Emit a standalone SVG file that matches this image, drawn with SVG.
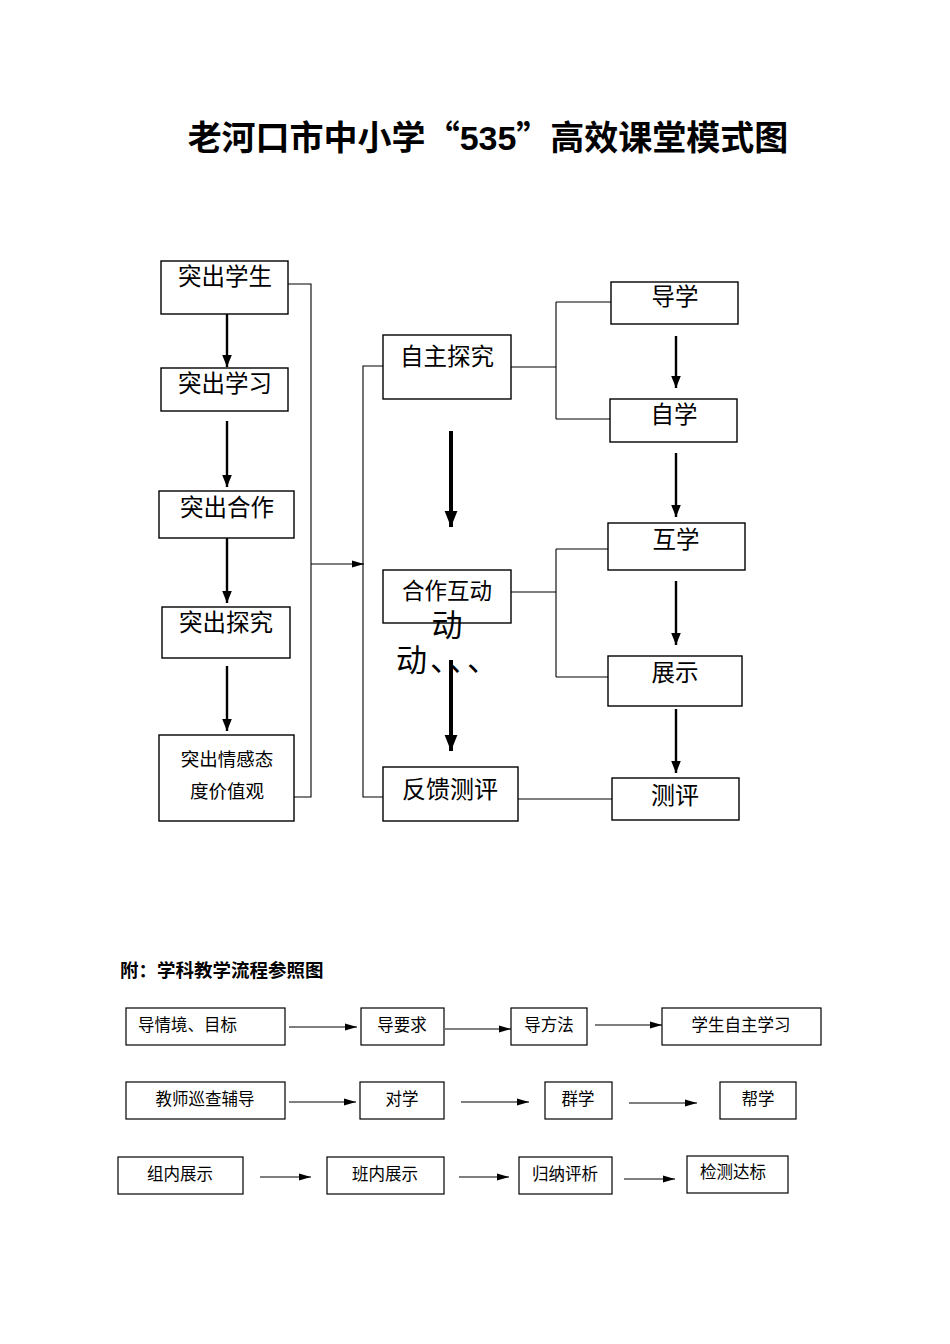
<svg xmlns="http://www.w3.org/2000/svg" width="950" height="1344" viewBox="0 0 950 1344">
<style>
.box{fill:#fff;stroke:#000;stroke-width:1.4}
.sbox{fill:#fff;stroke:#000;stroke-width:1.2}
.ln{fill:none;stroke:#000;stroke-width:1.1}
.ar{fill:none;stroke:#000;stroke-width:2.4}
.bar{fill:none;stroke:#000;stroke-width:4}
.sa{fill:none;stroke:#000;stroke-width:1.1}
text{font-family:"Liberation Sans","Noto Sans CJK SC",sans-serif;fill:#000}
.cjk{font-family:"Noto Sans CJK SC",sans-serif}
.t{font-size:23.5px;text-anchor:middle}
.s{font-size:16.5px;text-anchor:middle}
</style>
<defs>
<marker id="ah" viewBox="0 0 10 10" refX="10" refY="5" markerWidth="5" markerHeight="5" orient="auto" markerUnits="strokeWidth"><path d="M0,1 L10,5 L0,9 z" fill="#000"/></marker>
<marker id="ahb" viewBox="0 0 10 10" refX="10" refY="5" markerWidth="4" markerHeight="4" orient="auto" markerUnits="strokeWidth"><path d="M0,1 L10,5 L0,9 z" fill="#000"/></marker>
<marker id="ahs" viewBox="0 0 10 10" refX="10" refY="5" markerWidth="11" markerHeight="11" orient="auto" markerUnits="strokeWidth"><path d="M0,2 L10,5 L0,8 z" fill="#000"/></marker>
</defs>

<text x="488" y="150" style="font-size:34px;font-weight:bold;text-anchor:middle">老河口市中小学<tspan class="cjk">“</tspan>535<tspan class="cjk">”</tspan>高效课堂模式图</text>

<g id="connectors">
<path class="ln" d="M288,284 H311 V797 H294"/>
<path class="ln" d="M311,564 H364" marker-end="url(#ahs)"/>
<path class="ln" d="M383,366 H363 V797 H383"/>
<path class="ln" d="M511,367 H556 M556,302 V419 M556,302 H611 M556,419 H610"/>
<path class="ln" d="M511,592 H556 M556,549 V677 M556,549 H608 M556,677 H608"/>
<path class="ln" d="M518,799 H612"/>
<path class="ar" d="M227,314 V367" marker-end="url(#ah)"/>
<path class="ar" d="M227,421 V487" marker-end="url(#ah)"/>
<path class="ar" d="M227,538 V603" marker-end="url(#ah)"/>
<path class="ar" d="M227,666 V731" marker-end="url(#ah)"/>
<path class="bar" d="M451,431 V527" marker-end="url(#ahb)"/>
<path class="bar" d="M451,660 V751" marker-end="url(#ahb)"/>
<path class="ar" d="M676,336 V388" marker-end="url(#ah)"/>
<path class="ar" d="M676,453 V517" marker-end="url(#ah)"/>
<path class="ar" d="M676,581 V645" marker-end="url(#ah)"/>
<path class="ar" d="M676,709 V773" marker-end="url(#ah)"/>
<path class="sa" d="M289,1027 H357" marker-end="url(#ahs)"/>
<path class="sa" d="M445,1029 H511" marker-end="url(#ahs)"/>
<path class="sa" d="M595,1025 H662" marker-end="url(#ahs)"/>
<path class="sa" d="M289,1102 H356" marker-end="url(#ahs)"/>
<path class="sa" d="M461,1102 H529" marker-end="url(#ahs)"/>
<path class="sa" d="M629,1103 H697" marker-end="url(#ahs)"/>
<path class="sa" d="M260,1177 H311" marker-end="url(#ahs)"/>
<path class="sa" d="M459,1177 H509" marker-end="url(#ahs)"/>
<path class="sa" d="M624,1179 H675" marker-end="url(#ahs)"/>
</g>

<g id="n1"><rect class="box" x="161" y="261" width="127" height="53"/><text class="t" x="225" y="285">突出学生</text></g>
<g id="n2"><rect class="box" x="161" y="368" width="127" height="43"/><text class="t" x="225" y="392">突出学习</text></g>
<g id="n3"><rect class="box" x="159" y="491" width="135" height="47"/><text class="t" x="227" y="516">突出合作</text></g>
<g id="n4"><rect class="box" x="162" y="607" width="128" height="51"/><text class="t" x="226" y="631">突出探究</text></g>
<g id="n5"><rect class="box" x="159" y="735" width="135" height="86"/><text x="227" y="766" style="font-size:18.5px;text-anchor:middle">突出情感态</text><text x="227" y="798" style="font-size:18.5px;text-anchor:middle">度价值观</text></g>

<g id="m1"><rect class="box" x="383" y="335" width="128" height="64"/><text class="t" x="447" y="365">自主探究</text></g>
<g id="m2"><rect class="box" x="383" y="570" width="128" height="53"/><text x="447" y="599" style="font-size:22.5px;text-anchor:middle">合作互动</text></g>
<g id="m3"><rect class="box" x="383" y="767" width="135" height="54"/><text x="450" y="798" style="font-size:24px;text-anchor:middle">反馈测评</text></g>
<text x="447" y="636" style="font-size:31px;text-anchor:middle">动</text>
<text x="396" y="671" style="font-size:31px;letter-spacing:3px">动、、、</text>

<g id="r1"><rect class="box" x="611" y="282" width="127" height="42"/><text class="t" x="675" y="305">导学</text></g>
<g id="r2"><rect class="box" x="610" y="399" width="127" height="43"/><text class="t" x="674" y="423">自学</text></g>
<g id="r3"><rect class="box" x="608" y="523" width="137" height="47"/><text class="t" x="676" y="548">互学</text></g>
<g id="r4"><rect class="box" x="608" y="656" width="134" height="50"/><text class="t" x="675" y="681">展示</text></g>
<g id="r5"><rect class="box" x="612" y="778" width="127" height="42"/><text x="675" y="804" style="font-size:24px;text-anchor:middle">测评</text></g>

<text x="120" y="977" style="font-size:18.5px;font-weight:bold">附：学科教学流程参照图</text>

<g id="b1"><rect class="sbox" x="126" y="1008" width="159" height="37"/><text x="138" y="1031" style="font-size:16.5px">导情境、目标</text></g>
<g id="b2"><rect class="sbox" x="361" y="1008" width="83" height="37"/><text class="s" x="402" y="1031">导要求</text></g>
<g id="b3"><rect class="sbox" x="511" y="1008" width="76" height="37"/><text class="s" x="549" y="1031">导方法</text></g>
<g id="b4"><rect class="sbox" x="662" y="1008" width="159" height="37"/><text class="s" x="741" y="1031">学生自主学习</text></g>

<g id="c1"><rect class="sbox" x="126" y="1082" width="159" height="37"/><text class="s" x="205" y="1105">教师巡查辅导</text></g>
<g id="c2"><rect class="sbox" x="360" y="1082" width="84" height="37"/><text class="s" x="402" y="1105">对学</text></g>
<g id="c3"><rect class="sbox" x="545" y="1082" width="67" height="37"/><text class="s" x="578" y="1105">群学</text></g>
<g id="c4"><rect class="sbox" x="720" y="1082" width="76" height="37"/><text class="s" x="758" y="1105">帮学</text></g>

<g id="d1"><rect class="sbox" x="118" y="1157" width="125" height="37"/><text class="s" x="180" y="1180">组内展示</text></g>
<g id="d2"><rect class="sbox" x="327" y="1157" width="117" height="37"/><text class="s" x="385" y="1180">班内展示</text></g>
<g id="d3"><rect class="sbox" x="519" y="1157" width="93" height="37"/><text class="s" x="565" y="1180">归纳评析</text></g>
<g id="d4"><rect class="sbox" x="687" y="1156" width="101" height="37"/><text class="s" x="733" y="1178">检测达标</text></g>
</svg>
